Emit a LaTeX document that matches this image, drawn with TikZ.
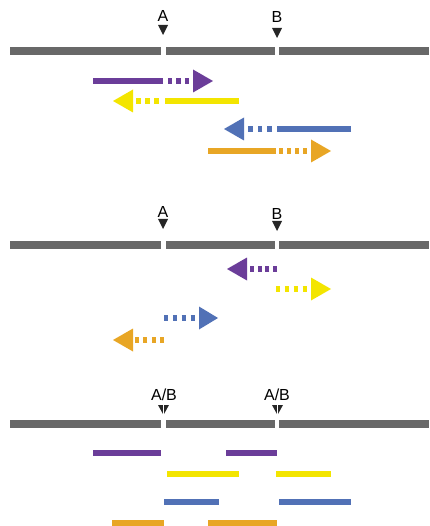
\documentclass[tikz,border=0pt]{standalone}
\usepackage{fontspec}
\setmainfont{Liberation Sans}
\usetikzlibrary{positioning}

\definecolor{chromgray}{HTML}{686868}
\definecolor{strandpurple}{HTML}{6B3D99}
\definecolor{strandyellow}{HTML}{F3E500}
\definecolor{strandblue}{HTML}{5171B6}
\definecolor{strandorange}{HTML}{E8A625}

\begin{document}
\begin{tikzpicture}[x=1pt,y=-1pt,
    chrom/.style={draw=chromgray,line width=8pt},
    strand/.style={line width=6.5pt},
    cutlabel/.style={font=\fontsize{16}{16}\selectfont,inner sep=0pt},
    cutmark/.style={fill=black!85}]
\clip (0,0) rectangle (429,526);

% Chromosome bars, broken at both cut sites
\foreach \y in {51,245,423.5} {
    \draw[chrom] (10,\y) -- (161,\y);
    \draw[chrom] (166,\y) -- (275,\y);
    \draw[chrom] (279,\y) -- (429,\y);
}

% Cut site labels
\node[cutlabel] (cutA1) at (163,16) {A};
\node[cutlabel] (cutB1) at (277,17.5) {B};
\node[cutlabel] (cutA2) at (163,211.5) {A};
\node[cutlabel] (cutB2) at (277,214) {B};
\node[cutlabel] (cutAB1) at (164,395) {A/B};
\node[cutlabel] (cutAB2) at (277,395) {A/B};

% Cut site markers
\foreach \x/\y in {163/25,277/28,163/219,277/221} {
    \fill[cutmark] (\x-5,\y) -- (\x+5,\y) -- (\x,\y+10) -- cycle;
}
% Double markers: one wedge for each site, split by a thin gap
\foreach \x in {163.5,277.5} {
    \fill[cutmark] (\x-5.5,405) -- (\x+5.5,405) -- (\x,415) -- cycle;
    \draw[white,line width=1.4pt] (\x,403) -- (\x,417);
}

% Extension from the first site: solid part, dashed part, head
\foreach \y/\sa/\sb/\da/\db/\n/\hb/\ht/\col in {81/93/163/168/189/3/193/213/strandpurple,101/239/165/159/136/3/133/113/strandyellow,129/351/277/272/248/3/244/224/strandblue,151/208/276/279/307/4/311/331/strandorange} {
    \pgfmathsetmacro{\dl}{abs(\db-\da)/(2*\n-1)}
    \draw[strand,\col] (\sa,\y) -- (\sb,\y);
    \draw[strand,\col,dash pattern=on \dl pt off \dl pt] (\da,\y) -- (\db,\y);
    \fill[\col] (\hb,\y-11.5) -- (\ht,\y) -- (\hb,\y+11.5) -- cycle;
}

% Extension from the second site: dashed part and head only
\foreach \y/\da/\db/\n/\hb/\ht/\col in {269/277/250/4/247/227/strandpurple,289/276/307/4/311/331/strandyellow,318/164/195/4/199/218/strandblue,340/164/135/4/133/113/strandorange} {
    \pgfmathsetmacro{\dl}{abs(\db-\da)/(2*\n-1)}
    \draw[strand,\col,dash pattern=on \dl pt off \dl pt] (\da,\y) -- (\db,\y);
    \fill[\col] (\hb,\y-11.5) -- (\ht,\y) -- (\hb,\y+11.5) -- cycle;
}

% Resulting fragments
\foreach \y/\a/\b/\c/\d/\col in {453/93/161/226/277/strandpurple,474/167/239/276/331/strandyellow,502/164/219/279/351/strandblue,523.5/112/164/208/277/strandorange} {
    \draw[strand,\col] (\a,\y) -- (\b,\y) (\c,\y) -- (\d,\y);
}
\end{tikzpicture}
\end{document}
